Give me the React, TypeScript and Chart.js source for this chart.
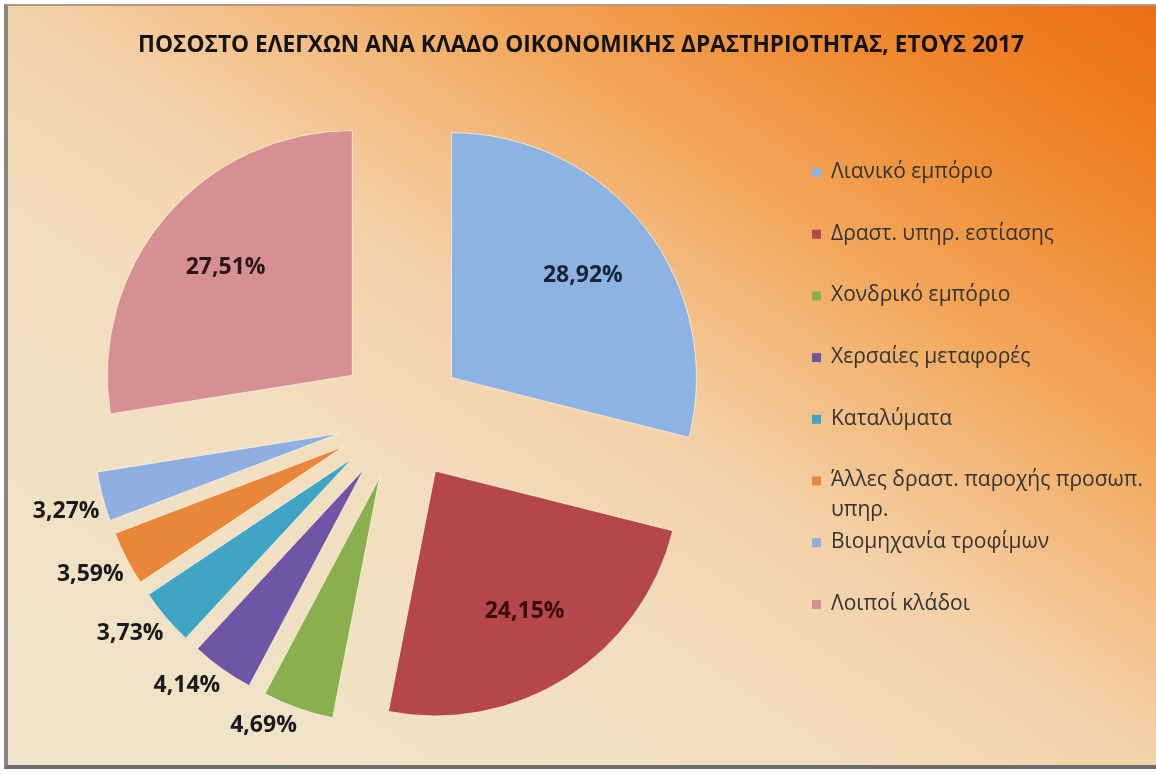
import React, { useEffect, useRef } from "react";
import { Chart, registerables } from "chart.js";

Chart.register(...registerables);

const chartTitle = "ΠΟΣΟΣΤΟ ΕΛΕΓΧΩΝ ΑΝΑ ΚΛΑΔΟ ΟΙΚΟΝΟΜΙΚΗΣ ΔΡΑΣΤΗΡΙΟΤΗΤΑΣ, ΕΤΟΥΣ 2017";

const categories = [
  "Λιανικό εμπόριο",
  "Δραστ. υπηρ. εστίασης",
  "Χονδρικό εμπόριο",
  "Χερσαίες μεταφορές",
  "Καταλύματα",
  "Άλλες δραστ. παροχής προσωπ. υπηρ.",
  "Βιομηχανία τροφίμων",
  "Λοιποί κλάδοι",
];

const shares = [28.92, 24.15, 4.69, 4.14, 3.73, 3.59, 3.27, 27.51];

const sliceColors = [
  "#8DB3E2",
  "#B5474A",
  "#8AB04E",
  "#6F55A5",
  "#3FA3C4",
  "#E8873A",
  "#8FAEE2",
  "#D69093",
];

const labelColors = [
  "#18223A",
  "#3A0C0E",
  "#1A1A1A",
  "#1A1A1A",
  "#1A1A1A",
  "#1A1A1A",
  "#1A1A1A",
  "#2A1616",
];

const EXPLODE = 64;
const RADIUS = 245;

const explodePlugin = {
  id: "explode",
  beforeDatasetDraw(chart: any, args: any) {
    const ctx = chart.ctx;
    args.meta.data.forEach((arc: any) => {
      const mid = (arc.startAngle + arc.endAngle) / 2;
      ctx.save();
      ctx.translate(Math.cos(mid) * EXPLODE, Math.sin(mid) * EXPLODE);
      arc.draw(ctx);
      ctx.restore();
    });
    return false;
  },
};

const fmt = (v: number) => v.toFixed(2).replace(".", ",") + "%";

const labelPlugin = {
  id: "sliceLabels",
  afterDatasetsDraw(chart: any) {
    const ctx = chart.ctx;
    const meta = chart.getDatasetMeta(0);
    ctx.save();
    ctx.font = 'bold 23px "Open Sans"';
    ctx.textBaseline = "middle";
    meta.data.forEach((arc: any, i: number) => {
      const mid = (arc.startAngle + arc.endAngle) / 2;
      const cx = Math.cos(mid);
      const sy = Math.sin(mid);
      const text = fmt(shares[i]);
      ctx.fillStyle = labelColors[i];
      if (shares[i] > 10) {
        const d = EXPLODE + arc.outerRadius * 0.68;
        ctx.textAlign = "center";
        ctx.fillText(text, arc.x + cx * d, arc.y + sy * d);
      } else {
        // outside end: box placed against an anchor just beyond the arc
        const d = EXPLODE + arc.outerRadius + 3;
        const ax = arc.x + cx * d;
        const ay = arc.y + sy * d;
        const hh = 14;
        ctx.textAlign = cx < 0 ? "right" : "left";
        const y = sy >= 0 ? ay + hh : ay - hh;
        ctx.fillText(text, ax, y);
      }
    });
    ctx.restore();
  },
};

const wrapText = (ctx: any, text: string, maxW: number) => {
  const words = text.split(" ");
  const lines: string[] = [];
  let cur = "";
  words.forEach((w) => {
    const t = cur ? cur + " " + w : w;
    if (ctx.measureText(t).width > maxW && cur) {
      lines.push(cur);
      cur = w;
    } else cur = t;
  });
  if (cur) lines.push(cur);
  return lines;
};

const legendPlugin = {
  id: "sideLegend",
  afterDraw(chart: any) {
    const ctx = chart.ctx;
    ctx.save();
    ctx.font = '21px "Open Sans"';
    ctx.textBaseline = "middle";
    ctx.textAlign = "left";
    const boxX = 812;
    const textX = 831;
    const top = 172;
    const step = 61.7;
    categories.forEach((c, i) => {
      const y = top + i * step;
      ctx.fillStyle = sliceColors[i];
      ctx.fillRect(boxX, y - 4, 9, 9);
      ctx.fillStyle = "#333333";
      const lines = wrapText(ctx, c, 320);
      lines.forEach((ln, k) => ctx.fillText(ln, textX, y + k * 30));
    });
    ctx.restore();
  },
};

const titlePlugin = {
  id: "chartTitle",
  afterDraw(chart: any) {
    const ctx = chart.ctx;
    ctx.save();
    ctx.font = 'bold 22.7px "Open Sans"';
    ctx.fillStyle = "#141414";
    ctx.textAlign = "center";
    ctx.textBaseline = "middle";
    ctx.fillText(chartTitle, 581, 46, 887);
    ctx.restore();
  },
};

export default function App() {
  const ref = useRef<HTMLCanvasElement | null>(null);

  useEffect(() => {
    if (!ref.current) return;
    const chart = new Chart(ref.current, {
      type: "pie",
      data: {
        labels: categories,
        datasets: [
          {
            data: shares,
            backgroundColor: sliceColors,
            borderColor: "rgba(250,244,228,0.8)",
            borderWidth: 1,
            radius: RADIUS,
          } as any,
        ],
      },
      options: {
        responsive: false,
        animation: false,
        devicePixelRatio: 1,
        layout: { padding: { left: 20, right: 374, top: 80, bottom: 20 } },
        plugins: {
          legend: { display: false },
          title: { display: false },
          tooltip: { enabled: false },
        },
      } as any,
      plugins: [explodePlugin, labelPlugin, legendPlugin, titlePlugin],
    });
    return () => chart.destroy();
  }, []);

  return (
    <div style={{ position: "absolute", left: 0, top: 0, width: 1156, height: 774, background: "#ffffff" }}>
      <div
        style={{
          position: "absolute",
          left: 4,
          top: 4,
          width: 1152,
          height: 765,
          boxSizing: "border-box",
          borderLeft: "4px solid #8a8580",
          borderTop: "2px solid #b09a86",
          borderBottom: "4px solid #6e6b68",
          background:
            "linear-gradient(to bottom left, #EC6E12 0%, #EF8A30 16%, #F2AC64 32%, #F4CFA4 48%, #F2DEBE 64%, #EEE5CC 100%)",
        }}
      />
      <canvas ref={ref} width={1156} height={774} style={{ position: "absolute", left: 0, top: 0 }} />
    </div>
  );
}
